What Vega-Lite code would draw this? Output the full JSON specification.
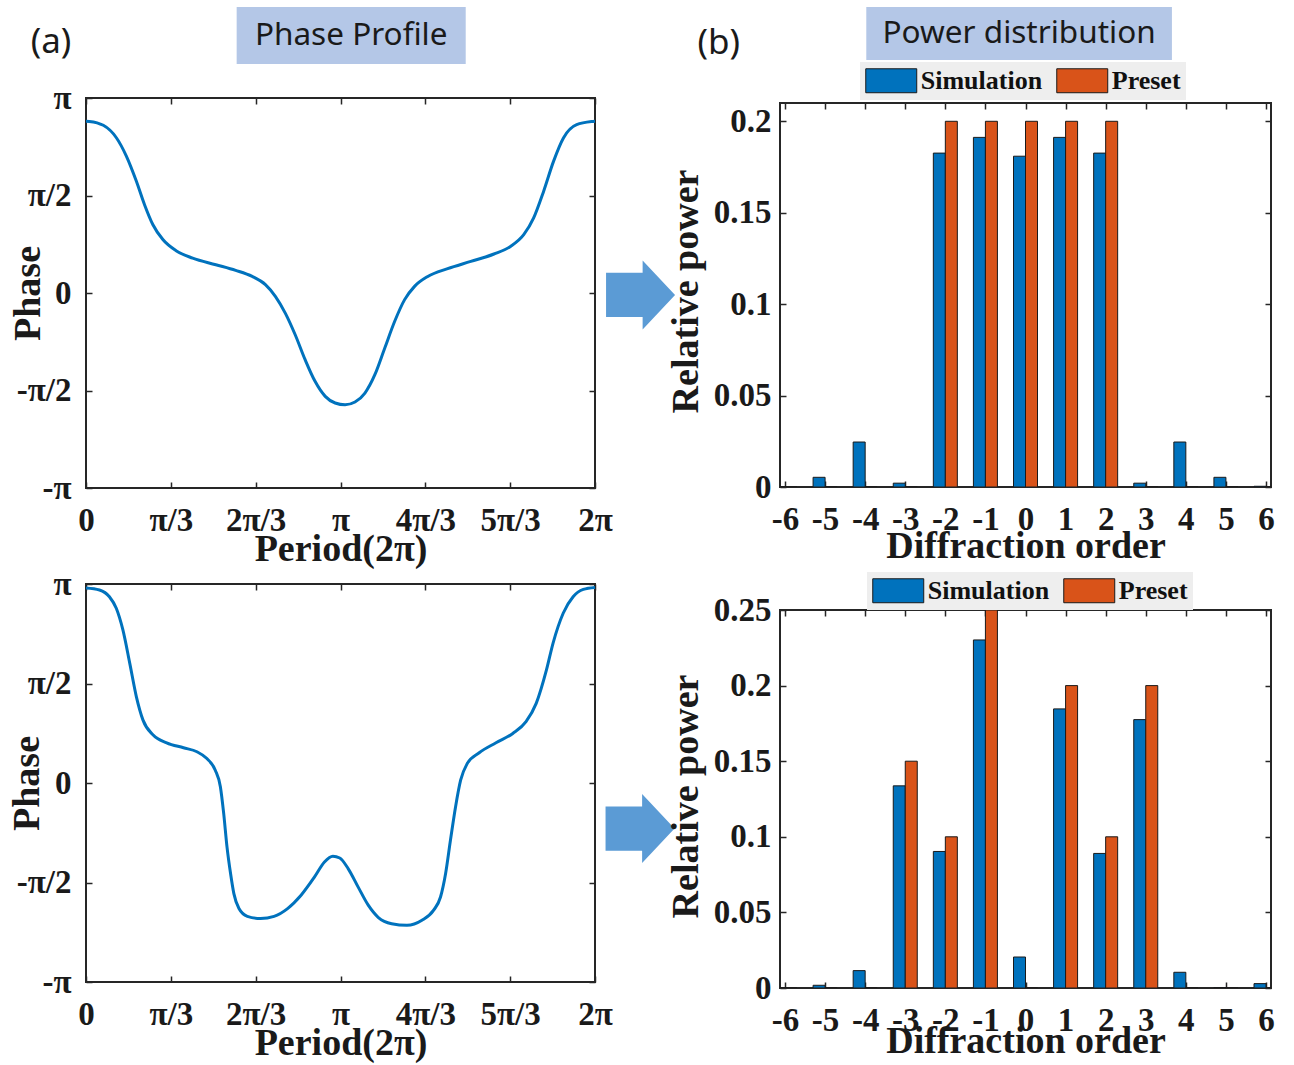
{
  "$schema": "https://vega.github.io/schema/vega-lite/v6.json",
  "background": "white",
  "padding": {"left": 7, "top": 7, "right": 8, "bottom": 4},
  "datasets": {
    "phase1": [
      {"t": 0, "phi": 0.881}, {"t": 0.013, "phi": 0.880}, {"t": 0.068, "phi": 0.860}, {"t": 0.120, "phi": 0.795},
      {"t": 0.159, "phi": 0.701}, {"t": 0.198, "phi": 0.573}, {"t": 0.230, "phi": 0.453}, {"t": 0.263, "phi": 0.350},
      {"t": 0.302, "phi": 0.274}, {"t": 0.354, "phi": 0.217}, {"t": 0.419, "phi": 0.179}, {"t": 0.510, "phi": 0.145},
      {"t": 0.588, "phi": 0.116}, {"t": 0.653, "phi": 0.085}, {"t": 0.705, "phi": 0.043}, {"t": 0.744, "phi": -0.017},
      {"t": 0.783, "phi": -0.103}, {"t": 0.822, "phi": -0.214}, {"t": 0.861, "phi": -0.342}, {"t": 0.900, "phi": -0.453},
      {"t": 0.940, "phi": -0.530}, {"t": 0.979, "phi": -0.564}, {"t": 1.018, "phi": -0.573}, {"t": 1.057, "phi": -0.559},
      {"t": 1.096, "phi": -0.513}, {"t": 1.135, "phi": -0.419}, {"t": 1.174, "phi": -0.282}, {"t": 1.213, "phi": -0.145},
      {"t": 1.252, "phi": -0.034}, {"t": 1.291, "phi": 0.034}, {"t": 1.343, "phi": 0.085}, {"t": 1.421, "phi": 0.125},
      {"t": 1.512, "phi": 0.162}, {"t": 1.603, "phi": 0.200}, {"t": 1.668, "phi": 0.239}, {"t": 1.720, "phi": 0.299},
      {"t": 1.759, "phi": 0.385}, {"t": 1.798, "phi": 0.521}, {"t": 1.837, "phi": 0.675}, {"t": 1.876, "phi": 0.795},
      {"t": 1.928, "phi": 0.863}, {"t": 1.993, "phi": 0.880}, {"t": 2, "phi": 0.881}
    ],
    "phase2": [
      {"t": 0, "phi": 0.980}, {"t": 0.053, "phi": 0.970}, {"t": 0.092, "phi": 0.936}, {"t": 0.119, "phi": 0.878},
      {"t": 0.145, "phi": 0.769}, {"t": 0.172, "phi": 0.601}, {"t": 0.198, "phi": 0.433}, {"t": 0.224, "phi": 0.316},
      {"t": 0.264, "phi": 0.241}, {"t": 0.317, "phi": 0.202}, {"t": 0.383, "phi": 0.177}, {"t": 0.436, "phi": 0.157},
      {"t": 0.475, "phi": 0.123}, {"t": 0.508, "phi": 0.064}, {"t": 0.528, "phi": -0.019}, {"t": 0.541, "phi": -0.153},
      {"t": 0.554, "phi": -0.321}, {"t": 0.568, "phi": -0.455}, {"t": 0.581, "phi": -0.556}, {"t": 0.601, "phi": -0.631},
      {"t": 0.634, "phi": -0.670}, {"t": 0.686, "phi": -0.681}, {"t": 0.739, "phi": -0.670}, {"t": 0.792, "phi": -0.631},
      {"t": 0.845, "phi": -0.564}, {"t": 0.898, "phi": -0.472}, {"t": 0.937, "phi": -0.397}, {"t": 0.970, "phi": -0.368},
      {"t": 0.997, "phi": -0.377}, {"t": 1.030, "phi": -0.430}, {"t": 1.069, "phi": -0.522}, {"t": 1.109, "phi": -0.614},
      {"t": 1.149, "phi": -0.676}, {"t": 1.201, "phi": -0.707}, {"t": 1.261, "phi": -0.715}, {"t": 1.320, "phi": -0.690},
      {"t": 1.366, "phi": -0.639}, {"t": 1.393, "phi": -0.573}, {"t": 1.413, "phi": -0.455}, {"t": 1.432, "phi": -0.288},
      {"t": 1.452, "phi": -0.120}, {"t": 1.472, "phi": 0.014}, {"t": 1.498, "phi": 0.098}, {"t": 1.545, "phi": 0.152},
      {"t": 1.611, "phi": 0.202}, {"t": 1.677, "phi": 0.249}, {"t": 1.729, "phi": 0.308}, {"t": 1.769, "phi": 0.400},
      {"t": 1.809, "phi": 0.567}, {"t": 1.835, "phi": 0.702}, {"t": 1.875, "phi": 0.853}, {"t": 1.914, "phi": 0.936},
      {"t": 1.954, "phi": 0.973}, {"t": 2, "phi": 0.983}
    ],
    "power1": [
      {"order": -6, "series": "Simulation", "power": 0}, {"order": -6, "series": "Preset", "power": 0},
      {"order": -5, "series": "Simulation", "power": 0.0053}, {"order": -5, "series": "Preset", "power": 0},
      {"order": -4, "series": "Simulation", "power": 0.0246}, {"order": -4, "series": "Preset", "power": 0},
      {"order": -3, "series": "Simulation", "power": 0.0021}, {"order": -3, "series": "Preset", "power": 0},
      {"order": -2, "series": "Simulation", "power": 0.1826}, {"order": -2, "series": "Preset", "power": 0.2},
      {"order": -1, "series": "Simulation", "power": 0.1912}, {"order": -1, "series": "Preset", "power": 0.2},
      {"order": 0, "series": "Simulation", "power": 0.1809}, {"order": 0, "series": "Preset", "power": 0.2},
      {"order": 1, "series": "Simulation", "power": 0.1912}, {"order": 1, "series": "Preset", "power": 0.2},
      {"order": 2, "series": "Simulation", "power": 0.1826}, {"order": 2, "series": "Preset", "power": 0.2},
      {"order": 3, "series": "Simulation", "power": 0.0021}, {"order": 3, "series": "Preset", "power": 0},
      {"order": 4, "series": "Simulation", "power": 0.0246}, {"order": 4, "series": "Preset", "power": 0},
      {"order": 5, "series": "Simulation", "power": 0.0053}, {"order": 5, "series": "Preset", "power": 0},
      {"order": 6, "series": "Simulation", "power": 0.0004}, {"order": 6, "series": "Preset", "power": 0}
    ],
    "power2": [
      {"order": -6, "series": "Simulation", "power": 0}, {"order": -6, "series": "Preset", "power": 0},
      {"order": -5, "series": "Simulation", "power": 0.0018}, {"order": -5, "series": "Preset", "power": 0},
      {"order": -4, "series": "Simulation", "power": 0.0115}, {"order": -4, "series": "Preset", "power": 0},
      {"order": -3, "series": "Simulation", "power": 0.1337}, {"order": -3, "series": "Preset", "power": 0.15},
      {"order": -2, "series": "Simulation", "power": 0.0903}, {"order": -2, "series": "Preset", "power": 0.1},
      {"order": -1, "series": "Simulation", "power": 0.2302}, {"order": -1, "series": "Preset", "power": 0.25},
      {"order": 0, "series": "Simulation", "power": 0.0205}, {"order": 0, "series": "Preset", "power": 0},
      {"order": 1, "series": "Simulation", "power": 0.1846}, {"order": 1, "series": "Preset", "power": 0.2},
      {"order": 2, "series": "Simulation", "power": 0.089}, {"order": 2, "series": "Preset", "power": 0.1},
      {"order": 3, "series": "Simulation", "power": 0.1775}, {"order": 3, "series": "Preset", "power": 0.2},
      {"order": 4, "series": "Simulation", "power": 0.0104}, {"order": 4, "series": "Preset", "power": 0},
      {"order": 5, "series": "Simulation", "power": 0.0003}, {"order": 5, "series": "Preset", "power": 0},
      {"order": 6, "series": "Simulation", "power": 0.0029}, {"order": 6, "series": "Preset", "power": 0}
    ]
  },
  "config": {
    "view": {"stroke": "#262626", "strokeWidth": 2},
    "axis": {
      "labelFont": "Liberation Serif", "labelFontWeight": "bold", "labelFontSize": 33, "labelColor": "#1a1a1a",
      "titleFont": "Liberation Serif", "titleFontWeight": "bold", "titleFontSize": 38, "titleColor": "#1a1a1a",
      "domain": false, "grid": false, "ticks": true, "tickSize": -6, "tickColor": "#262626", "tickWidth": 1.5,
      "labelFlush": false, "labelOverlap": false
    },
    "legend": {
      "orient": "none", "direction": "horizontal", "title": null,
      "fillColor": "#EEEEEE", "padding": 5,
      "symbolType": "M-2,-0.94L2,-0.94L2,0.94L-2,0.94Z", "symbolSize": 650, "symbolOffset": 12.75,
      "symbolStrokeColor": "#1a1a1a", "symbolStrokeWidth": 1, "symbolOpacity": 1,
      "labelFont": "Liberation Serif", "labelFontWeight": "bold", "labelFontSize": 26, "labelColor": "#111111",
      "labelOffset": 16, "columnPadding": 11
    }
  },
  "hconcat": [
    {
      "vconcat": [
        {
          "width": 509, "height": 57,
          "view": {"stroke": null},
          "data": {"values": [{"title": "Phase Profile", "tag": "(a)"}]},
          "layer": [
            {"mark": {"type": "rect", "color": "#B4C7E7"},
             "encoding": {"x": {"datum": 0.592, "type": "quantitative", "scale": {"domain": [0, 2], "nice": false, "zero": false}, "axis": null}, "x2": {"datum": 1.492}}},
            {"mark": {"type": "text", "font": "Noto Sans", "fontSize": 31.5, "color": "#1a1a1a", "baseline": "middle"},
             "encoding": {"x": {"datum": 1.042, "type": "quantitative", "axis": null}, "text": {"field": "title"}}},
            {"mark": {"type": "text", "font": "Noto Sans", "fontSize": 35, "color": "#1a1a1a", "baseline": "middle", "dy": 6},
             "encoding": {"x": {"datum": -0.1375, "type": "quantitative", "axis": null}, "text": {"field": "tag"}}}
          ]
        },
        {
          "width": 509, "height": 390,
          "layer": [
            {"data": {"name": "phase1"},
             "mark": {"type": "line", "color": "#0072BD", "strokeWidth": 3, "interpolate": "monotone"},
             "encoding": {
               "x": {"field": "t", "type": "quantitative", "scale": {"domain": [0, 2], "nice": false, "zero": false},
                     "axis": {"orient": "bottom", "values": [0, 0.3333333333, 0.6666666667, 1, 1.3333333333, 1.6666666667, 2],
                              "labelExpr": "datum.value < 0.1 ? '0' : datum.value < 0.5 ? 'π/3' : datum.value < 0.8 ? '2π/3' : datum.value < 1.1 ? 'π' : datum.value < 1.5 ? '4π/3' : datum.value < 1.8 ? '5π/3' : '2π'",
                              "labelPadding": 22, "title": "Period(2π)", "titleY": 72, "titleBaseline": "alphabetic"}},
               "y": {"field": "phi", "type": "quantitative", "scale": {"domain": [-1, 1], "nice": false, "zero": false},
                     "axis": {"orient": "left", "values": [-1, -0.5, 0, 0.5, 1],
                              "labelExpr": "datum.value > 0.9 ? 'π' : datum.value > 0.4 ? 'π/2' : datum.value > -0.1 ? '0' : datum.value > -0.6 ? '-π/2' : '-π'",
                              "labelPadding": 21, "title": "Phase", "titleX": -47, "titleY": 195, "titleBaseline": "alphabetic"}}
             }},
            {"data": {"name": "phase1"},
             "mark": {"type": "line", "strokeOpacity": 0},
             "encoding": {
               "x": {"field": "t", "type": "quantitative", "axis": {"orient": "top", "values": [0, 0.3333333333, 0.6666666667, 1, 1.3333333333, 1.6666666667, 2], "labels": false, "title": null}},
               "y": {"field": "phi", "type": "quantitative", "axis": {"orient": "right", "values": [-1, -0.5, 0, 0.5, 1], "labels": false, "title": null}}
             }},
            {"data": {"values": [{"arrow": "right"}]},
             "mark": {"type": "point", "shape": "M-1,-0.64L0.06,-0.64L0.06,-1L1,0L0.06,1L0.06,0.64L-1,0.64Z", "size": 4761, "filled": true, "color": "#5B9BD5", "opacity": 1},
             "encoding": {"x": {"datum": 2.179, "type": "quantitative", "axis": null}, "y": {"datum": -0.01, "type": "quantitative", "axis": null}}}
          ],
          "resolve": {"axis": {"x": "independent", "y": "independent"}}
        },
        {
          "width": 509, "height": 28,
          "view": {"stroke": null},
          "data": {"values": [{"s": ""}]},
          "mark": {"type": "text"},
          "encoding": {"text": {"field": "s"}}
        },
        {
          "width": 509, "height": 398,
          "layer": [
            {"data": {"name": "phase2"},
             "mark": {"type": "line", "color": "#0072BD", "strokeWidth": 3, "interpolate": "monotone"},
             "encoding": {
               "x": {"field": "t", "type": "quantitative", "scale": {"domain": [0, 2], "nice": false, "zero": false},
                     "axis": {"orient": "bottom", "values": [0, 0.3333333333, 0.6666666667, 1, 1.3333333333, 1.6666666667, 2],
                              "labelExpr": "datum.value < 0.1 ? '0' : datum.value < 0.5 ? 'π/3' : datum.value < 0.8 ? '2π/3' : datum.value < 1.1 ? 'π' : datum.value < 1.5 ? '4π/3' : datum.value < 1.8 ? '5π/3' : '2π'",
                              "labelPadding": 22, "title": "Period(2π)", "titleY": 72, "titleBaseline": "alphabetic"}},
               "y": {"field": "phi", "type": "quantitative", "scale": {"domain": [-1, 1], "nice": false, "zero": false},
                     "axis": {"orient": "left", "values": [-1, -0.5, 0, 0.5, 1],
                              "labelExpr": "datum.value > 0.9 ? 'π' : datum.value > 0.4 ? 'π/2' : datum.value > -0.1 ? '0' : datum.value > -0.6 ? '-π/2' : '-π'",
                              "labelPadding": 21, "title": "Phase", "titleX": -48, "titleY": 199, "titleBaseline": "alphabetic"}}
             }},
            {"data": {"name": "phase2"},
             "mark": {"type": "line", "strokeOpacity": 0},
             "encoding": {
               "x": {"field": "t", "type": "quantitative", "axis": {"orient": "top", "values": [0, 0.3333333333, 0.6666666667, 1, 1.3333333333, 1.6666666667, 2], "labels": false, "title": null}},
               "y": {"field": "phi", "type": "quantitative", "axis": {"orient": "right", "values": [-1, -0.5, 0, 0.5, 1], "labels": false, "title": null}}
             }},
            {"data": {"values": [{"arrow": "right"}]},
             "mark": {"type": "point", "shape": "M-1,-0.64L0.06,-0.64L0.06,-1L1,0L0.06,1L0.06,0.64L-1,0.64Z", "size": 4761, "filled": true, "color": "#5B9BD5", "opacity": 1},
             "encoding": {"x": {"datum": 2.177, "type": "quantitative", "axis": null}, "y": {"datum": -0.229, "type": "quantitative", "axis": null}}}
          ],
          "resolve": {"axis": {"x": "independent", "y": "independent"}}
        }
      ],
      "spacing": 34,
      "bounds": "flush",
      "resolve": {"scale": {"x": "shared", "y": "independent"}, "axis": {"x": "independent", "y": "independent"}}
    },
    {
      "vconcat": [
        {
          "width": 491, "height": 53,
          "view": {"stroke": null},
          "data": {"values": [{"title": "Power distribution", "tag": "(b)"}]},
          "layer": [
            {"mark": {"type": "rect", "color": "#B4C7E7"},
             "encoding": {"x": {"datum": -3.972, "type": "quantitative", "scale": {"domain": [-6, 6], "nice": false, "zero": false}, "axis": null}, "x2": {"datum": 3.653}}},
            {"mark": {"type": "text", "font": "Noto Sans", "fontSize": 31.5, "color": "#1a1a1a", "baseline": "middle"},
             "encoding": {"x": {"datum": -0.159, "type": "quantitative", "axis": null}, "text": {"field": "title"}}},
            {"mark": {"type": "text", "font": "Noto Sans", "fontSize": 35, "color": "#1a1a1a", "baseline": "middle", "dy": 9},
             "encoding": {"x": {"datum": -7.65, "type": "quantitative", "axis": null}, "text": {"field": "tag"}}}
          ]
        },
        {
          "width": 491, "height": 384,
          "data": {"name": "power1"},
          "layer": [
            {"transform": [{"filter": "datum.series === 'Simulation'"}],
             "mark": {"type": "bar", "orient": "vertical", "width": 12, "xOffset": -6, "stroke": "#1a1a1a", "strokeWidth": 1, "clip": true},
             "encoding": {
               "x": {"field": "order", "type": "quantitative", "scale": {"domain": [-6, 6], "nice": false, "zero": false},
                     "axis": {"orient": "bottom", "values": [-6, -5, -4, -3, -2, -1, 0, 1, 2, 3, 4, 5, 6], "labelExpr": "datum.value + ''",
                              "labelPadding": 22, "title": "Diffraction order", "titleY": 70, "titleBaseline": "alphabetic"}},
               "y": {"field": "power", "type": "quantitative", "scale": {"domain": [0, 0.21], "nice": false},
                     "axis": {"orient": "left", "values": [0, 0.05, 0.1, 0.15, 0.2], "format": "~g",
                              "labelPadding": 15, "title": "Relative power", "titleX": -83, "titleY": 188, "titleBaseline": "alphabetic"}},
               "color": {"field": "series", "type": "nominal", "scale": {"domain": ["Simulation", "Preset"], "range": ["#0072BD", "#D95319"]},
                         "legend": {"legendX": 80, "legendY": -41}}
             }},
            {"transform": [{"filter": "datum.series === 'Preset'"}],
             "mark": {"type": "bar", "orient": "vertical", "width": 12, "xOffset": 6, "stroke": "#1a1a1a", "strokeWidth": 1, "clip": true},
             "encoding": {
               "x": {"field": "order", "type": "quantitative", "axis": {"orient": "top", "values": [-6, -5, -4, -3, -2, -1, 0, 1, 2, 3, 4, 5, 6], "labels": false, "title": null}},
               "y": {"field": "power", "type": "quantitative", "axis": {"orient": "right", "values": [0, 0.05, 0.1, 0.15, 0.2], "labels": false, "title": null}},
               "color": {"field": "series", "type": "nominal"}
             }}
          ],
          "resolve": {"axis": {"x": "independent", "y": "independent"}}
        },
        {
          "width": 491, "height": 37,
          "view": {"stroke": null},
          "data": {"values": [{"s": ""}]},
          "mark": {"type": "text"},
          "encoding": {"text": {"field": "s"}}
        },
        {
          "width": 491, "height": 378,
          "data": {"name": "power2"},
          "layer": [
            {"transform": [{"filter": "datum.series === 'Simulation'"}],
             "mark": {"type": "bar", "orient": "vertical", "width": 12, "xOffset": -6, "stroke": "#1a1a1a", "strokeWidth": 1, "clip": true},
             "encoding": {
               "x": {"field": "order", "type": "quantitative", "scale": {"domain": [-6, 6], "nice": false, "zero": false},
                     "axis": {"orient": "bottom", "values": [-6, -5, -4, -3, -2, -1, 0, 1, 2, 3, 4, 5, 6], "labelExpr": "datum.value + ''",
                              "labelPadding": 22, "title": "Diffraction order", "titleY": 64, "titleBaseline": "alphabetic"}},
               "y": {"field": "power", "type": "quantitative", "scale": {"domain": [0, 0.25], "nice": false},
                     "axis": {"orient": "left", "values": [0, 0.05, 0.1, 0.15, 0.2, 0.25], "format": "~g",
                              "labelPadding": 15, "title": "Relative power", "titleX": -83, "titleY": 186, "titleBaseline": "alphabetic"}},
               "color": {"field": "series", "type": "nominal", "scale": {"domain": ["Simulation", "Preset"], "range": ["#0072BD", "#D95319"]},
                         "legend": {"legendX": 87, "legendY": -38}}
             }},
            {"transform": [{"filter": "datum.series === 'Preset'"}],
             "mark": {"type": "bar", "orient": "vertical", "width": 12, "xOffset": 6, "stroke": "#1a1a1a", "strokeWidth": 1, "clip": true},
             "encoding": {
               "x": {"field": "order", "type": "quantitative", "axis": {"orient": "top", "values": [-6, -5, -4, -3, -2, -1, 0, 1, 2, 3, 4, 5, 6], "labels": false, "title": null}},
               "y": {"field": "power", "type": "quantitative", "axis": {"orient": "right", "values": [0, 0.05, 0.1, 0.15, 0.2, 0.25], "labels": false, "title": null}},
               "color": {"field": "series", "type": "nominal"}
             }}
          ],
          "resolve": {"axis": {"x": "independent", "y": "independent"}}
        }
      ],
      "spacing": 43,
      "bounds": "flush",
      "resolve": {"scale": {"x": "shared", "y": "independent", "color": "independent"}, "axis": {"x": "independent", "y": "independent"}, "legend": {"color": "independent"}}
    }
  ],
  "spacing": 694,
  "bounds": "flush",
  "resolve": {"scale": {"x": "independent", "y": "independent", "color": "independent"}, "axis": {"x": "independent", "y": "independent"}, "legend": {"color": "independent"}}
}
